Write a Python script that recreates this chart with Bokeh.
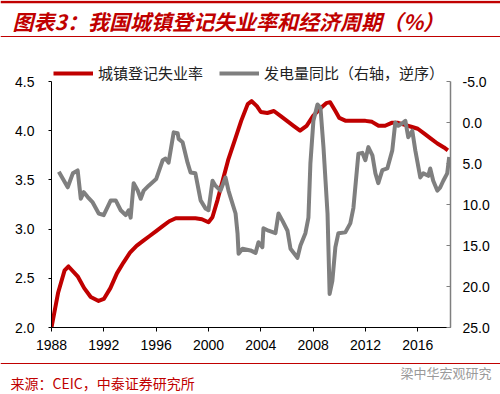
from bokeh.plotting import figure
from bokeh.models import (Range1d, LinearAxis, FixedTicker, NumeralTickFormatter,
                          Legend, LegendItem)
from bokeh.embed import file_html
from bokeh.resources import INLINE
from bokeh.core.properties import value

# ---------------- data ----------------
title_text = "图表3：我国城镇登记失业率和经济周期（%）"
source_text = "来源：CEIC，中泰证券研究所"
watermark_text = "梁中华宏观研究"
label_unemp = "城镇登记失业率"
label_power = "发电量同比（右轴，逆序）"

year_ticks = [1988, 1992, 1996, 2000, 2004, 2008, 2012, 2016]
left_ticks = [2.0, 2.5, 3.0, 3.5, 4.0, 4.5]
right_ticks = [-5, 0, 5, 10, 15, 20, 25]

unemp_year = [1988.0, 1988.5, 1989.0, 1989.3, 1990.0, 1990.5, 1991.0, 1991.6, 1992.0,
              1992.5, 1993.0, 1993.5, 1994.0, 1994.5, 1995.0, 1995.5, 1996.0, 1996.5,
              1997.0, 1997.5, 1998.0, 1999.0, 1999.5, 2000.0, 2000.3, 2000.7, 2001.0,
              2001.5, 2002.0, 2002.5, 2003.0, 2003.3, 2003.7, 2004.0, 2004.5, 2005.0,
              2005.5, 2006.0, 2006.5, 2007.0, 2007.5, 2008.0, 2008.5, 2009.0, 2009.3,
              2009.7, 2010.0, 2010.5, 2011.0, 2012.0, 2012.5, 2013.0, 2013.5, 2014.0,
              2014.5, 2015.0, 2015.5, 2016.0, 2016.5, 2017.0, 2017.5, 2018.0, 2018.3]
unemp_rate = [2.00, 2.35, 2.58, 2.62, 2.52, 2.40, 2.31, 2.27, 2.29,
              2.40, 2.55, 2.66, 2.76, 2.83, 2.88, 2.93, 2.98, 3.03,
              3.08, 3.11, 3.11, 3.11, 3.10, 3.07, 3.12, 3.30, 3.45,
              3.70, 3.90, 4.10, 4.27, 4.30, 4.25, 4.19, 4.18, 4.20,
              4.15, 4.10, 4.05, 4.00, 4.05, 4.15, 4.22, 4.28, 4.29,
              4.20, 4.13, 4.10, 4.10, 4.10, 4.09, 4.05, 4.05, 4.08,
              4.08, 4.06, 4.04, 4.02, 3.97, 3.92, 3.87, 3.83, 3.80]

power_year = [1988.56, 1989.24, 1989.63, 1990.0, 1990.24, 1990.47, 1990.77, 1991.15,
              1991.61, 1991.99, 1992.53, 1992.91, 1993.29, 1993.67, 1993.9, 1994.05,
              1994.28, 1994.59, 1994.82, 1995.05, 1995.43, 1996.0, 1996.5, 1996.72,
              1996.95, 1997.34, 1997.64, 1997.72, 1998.02, 1998.4, 1998.63, 1999.0,
              1999.4, 1999.78, 2000.0, 2000.31, 2000.53, 2000.92, 2001.3, 2001.53,
              2001.68, 2002.07, 2002.22, 2002.3, 2002.6, 2003.21, 2003.6, 2003.82,
              2004.12, 2004.2, 2004.59, 2005.12, 2005.35, 2005.66, 2006.04, 2006.27,
              2006.8, 2007.03, 2007.41, 2007.64, 2007.79, 2008.02, 2008.33, 2008.56,
              2008.79, 2009.1, 2009.26, 2009.47, 2009.7, 2009.93, 2010.46, 2010.84,
              2011.08, 2011.46, 2011.76, 2011.99, 2012.22, 2012.53, 2012.76, 2012.98,
              2013.29, 2013.67, 2014.05, 2014.28, 2014.51, 2014.82, 2015.05, 2015.27,
              2015.58, 2015.81, 2016.19, 2016.42, 2016.8, 2016.95, 2017.18, 2017.49,
              2017.72, 2017.95, 2018.25, 2018.4]
power_yoy = [6.0, 7.9, 6.2, 5.85, 9.3, 8.5, 9.1, 9.75,
             11.1, 11.3, 9.5, 9.5, 10.7, 11.3, 10.7, 11.6,
             7.4, 8.3, 9.3, 8.3, 7.7, 6.9, 4.6, 4.4,
             4.9, 1.2, 1.3, 2.0, 2.4, 4.9, 6.1, 6.2,
             9.5, 10.5, 10.7, 7.1, 7.7, 8.3, 6.7, 8.3,
             9.1, 11.1, 13.5, 16.0, 15.4, 15.6, 15.9, 14.6,
             15.2, 12.9, 13.2, 13.5, 11.1, 12.0, 13.2, 15.4,
             16.5, 15.0, 13.5, 11.6, 5.0, -0.2, -2.2, -1.8,
             3.0, 11.1, 20.9, 19.3, 15.2, 13.5, 13.4, 12.3,
             10.4, 3.8, 3.7, 4.6, 3.0, 4.0, 6.2, 7.4,
             5.8, 5.6, 3.4, 0.0, 0.4, 0.1, -0.2, 1.8,
             1.0, 3.4, 6.7, 6.2, 6.5, 5.6, 7.1, 8.3,
             7.9, 7.1, 6.2, 4.2]

RED = "#C00000"
GRAY = "#7F7F7F"
TICK_FONT = "Liberation Sans"
CJK_FONT = "Noto Sans CJK SC"

W = 500
HDR_H = 60
MAIN_H = 295
FTR_H = 39
AXIS_PX = 246          # pixel span of the 2.0..4.5 / 25..-5 axes
LEGEND_PX = 21         # extra frame room above the axes for the legend
BORDER_BOTTOM = 28

left_lo, left_hi = left_ticks[0], left_ticks[-1]
right_lo, right_hi = right_ticks[-1], right_ticks[0]
left_top = left_hi + (left_hi - left_lo) * LEGEND_PX / AXIS_PX
right_top = right_hi - (right_lo - right_hi) * LEGEND_PX / AXIS_PX

# ---------------- header ----------------
hdr = figure(width=W, height=HDR_H, x_range=Range1d(0, W), y_range=Range1d(0, HDR_H),
             output_backend="svg", toolbar_location=None, x_axis_type=None,
             y_axis_type=None, min_border=0)
hdr.grid.visible = False
hdr.outline_line_color = None
hdr.segment(x0=[0], y0=[HDR_H - 1.5], x1=[W], y1=[HDR_H - 1.5], line_color=RED, line_width=2.5)
hdr.segment(x0=[0], y0=[HDR_H - 36], x1=[W], y1=[HDR_H - 36], line_color=RED, line_width=1.2)
hdr.text(x=[12], y=[HDR_H - 20], text=[title_text], text_font=value(CJK_FONT),
         text_font_style="bold italic", text_font_size="21px", text_color=RED,
         text_baseline="middle", text_align="left")

# ---------------- main chart ----------------
p = figure(width=W, height=MAIN_H, x_range=Range1d(1988, 2018.5),
           y_range=Range1d(left_lo, left_top), output_backend="svg",
           toolbar_location=None, min_border_left=51, min_border_right=50,
           min_border_top=0, min_border_bottom=BORDER_BOTTOM)
p.extra_y_ranges = {"power": Range1d(start=right_lo, end=right_top)}
p.xgrid.visible = False
p.ygrid.visible = False
p.outline_line_color = None
p.background_fill_color = "white"

xa = p.xaxis[0]
xa.ticker = FixedTicker(ticks=year_ticks)
xa.major_label_text_font = TICK_FONT
xa.major_label_text_font_size = "14px"
xa.major_label_text_color = "#000000"
xa.axis_line_color = "#000000"
xa.major_tick_line_color = "#000000"
xa.major_tick_out = 4
xa.major_tick_in = 0
xa.minor_tick_line_color = None
xa.major_label_standoff = 8

ya = p.yaxis[0]
ya.ticker = FixedTicker(ticks=left_ticks)
ya.formatter = NumeralTickFormatter(format="0.0")
ya.bounds = (left_lo, left_hi)
ya.major_label_text_font = TICK_FONT
ya.major_label_text_font_size = "14px"
ya.major_label_text_color = "#000000"
ya.axis_line_color = "#000000"
ya.major_tick_line_color = "#000000"
ya.major_tick_out = 3
ya.major_tick_in = 0
ya.minor_tick_line_color = None
ya.major_label_standoff = 14

ra = LinearAxis(y_range_name="power", ticker=FixedTicker(ticks=right_ticks),
                formatter=NumeralTickFormatter(format="0.0"),
                bounds=(right_hi, right_lo))
ra.major_label_text_font = TICK_FONT
ra.major_label_text_font_size = "14px"
ra.major_label_text_color = "#000000"
ra.axis_line_color = GRAY
ra.axis_line_width = 1.5
ra.major_tick_line_color = GRAY
ra.major_tick_out = 0
ra.major_tick_in = 4
ra.minor_tick_line_color = None
ra.major_label_standoff = 12
p.add_layout(ra, "right")

r_red = p.line(unemp_year, unemp_rate, line_color=RED, line_width=4, line_join="round")
r_gray = p.line(power_year, power_yoy, y_range_name="power", line_color=GRAY,
                line_width=4, line_join="round")

legend = Legend(items=[LegendItem(label=label_unemp, renderers=[r_red]),
                       LegendItem(label=label_power, renderers=[r_gray])],
                orientation="horizontal", location="top_left",
                border_line_color=None, background_fill_alpha=0,
                label_text_font=CJK_FONT, label_text_font_size="15px",
                label_text_color="#222222", glyph_width=40, glyph_height=16,
                label_standoff=5, spacing=16, padding=0, margin=2)
p.add_layout(legend)

# ---------------- footer ----------------
ftr = figure(width=W, height=FTR_H, x_range=Range1d(0, W), y_range=Range1d(0, FTR_H),
             output_backend="svg", toolbar_location=None, x_axis_type=None,
             y_axis_type=None, min_border=0)
ftr.grid.visible = False
ftr.outline_line_color = None
ftr.segment(x0=[0], y0=[FTR_H - 8], x1=[W], y1=[FTR_H - 8], line_color=RED, line_width=1.2)
ftr.text(x=[400], y=[FTR_H - 17], text=[watermark_text], text_font=value(CJK_FONT),
         text_font_size="13px", text_color="#9A9A9A", text_baseline="middle",
         text_align="left")
ftr.text(x=[10], y=[12], text=[source_text], text_font=value(CJK_FONT),
         text_font_size="14px", text_color=RED, text_baseline="middle",
         text_align="left")

open("out.html", "w").write(file_html([hdr, p, ftr], INLINE))
